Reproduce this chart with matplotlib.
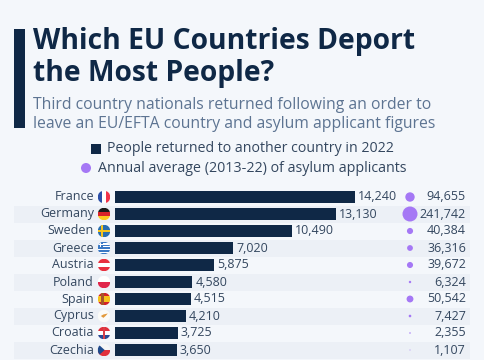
import matplotlib
matplotlib.use("Agg")
import matplotlib.pyplot as plt
from matplotlib.patches import Rectangle, Circle, Polygon

countries = ["France", "Germany", "Sweden", "Greece", "Austria",
             "Poland", "Spain", "Cyprus", "Croatia", "Czechia"]
returned = [14240, 13130, 10490, 7020, 5875, 4580, 4515, 4210, 3725, 3650]
asylum = [94655, 241742, 40384, 36316, 39672, 6324, 50542, 7427, 2355, 1107]

BG = "#f4f7fb"
STRIPE = "#ecf0f6"
NAVY = "#0f2846"
PURPLE = "#a578f5"
TEXT = "#34475f"
SUB = "#5d7492"

W, H = 485, 360
plt.rcParams["font.family"] = ["Open Sans", "DejaVu Sans"]

fig = plt.figure(figsize=(W / 100, H / 100), dpi=100, facecolor=BG)

# overlay in pixel coords for header, stripes and flags
bg = fig.add_axes([0, 0, 1, 1], zorder=0)
bg.set_xlim(0, W)
bg.set_ylim(H, 0)
bg.axis("off")

bg.add_patch(Rectangle((14, 29), 11, 99, color=NAVY, lw=0))
bg.text(33, 49, "Which EU Countries Deport", fontsize=20.3, fontweight="bold", color=NAVY)
bg.text(33, 81, "the Most People?", fontsize=20.3, fontweight="bold", color=NAVY)
bg.text(33, 109, "Third country nationals returned following an order to", fontsize=11.35, color=SUB)
bg.text(33, 128, "leave an EU/EFTA country and asylum applicant figures", fontsize=11.35, color=SUB)

bg.add_patch(Rectangle((91, 144), 10, 10, color=NAVY, lw=0))
bg.text(107, 149, "People returned to another country in 2022", fontsize=10.2, color=TEXT, va="center")
bg.add_patch(Circle((86, 168), 5, color=PURPLE, lw=0))
bg.text(98, 168, "Annual average (2013-22) of asylum applicants", fontsize=10.25, color=TEXT, va="center")

row_h = 17
top = 188.5


def row_y(i):
    return top + row_h * (i + 0.5)


# zebra stripes
for i in range(1, len(countries), 2):
    bg.add_patch(Rectangle((14, top + row_h * i), 456, row_h, color=STRIPE, lw=0))


def flag(i, shapes, base="#ffffff"):
    cx, cy, r = 104, row_y(i), 6.3
    clip = Circle((cx, cy), r, transform=bg.transData)
    back = Rectangle((cx - r, cy - r), 2 * r, 2 * r, color=base, lw=0)
    bg.add_patch(back)
    back.set_clip_path(clip)
    for kind, col, a in shapes:
        if kind == "v":  # vertical band, x0/x1 as fractions
            p = Rectangle((cx - r + a[0] * 2 * r, cy - r), (a[1] - a[0]) * 2 * r, 2 * r, color=col, lw=0)
        elif kind == "h":
            p = Rectangle((cx - r, cy - r + a[0] * 2 * r), 2 * r, (a[1] - a[0]) * 2 * r, color=col, lw=0)
        else:
            p = Polygon([(cx - r + x * 2 * r, cy - r + y * 2 * r) for x, y in a], color=col, lw=0)
        bg.add_patch(p)
        p.set_clip_path(clip)


flag(0, [("v", "#2b4fa8", (0, .33)), ("v", "#f0344a", (.67, 1))])
flag(1, [("h", "#1a1a1a", (0, .33)), ("h", "#d8232a", (.33, .67)), ("h", "#fbc820", (.67, 1))])
flag(2, [("h", "#2a6fb0", (0, 1)), ("h", "#f7c51e", (.42, .58)), ("v", "#f7c51e", (.3, .46))])
flag(3, [("h", "#3a78c4", (i / 9, (i + 1) / 9)) for i in range(0, 9, 2)]
     + [("p", "#3a78c4", [(0, 0), (.42, 0), (.42, .45), (0, .45)]),
        ("h", "#ffffff", (.18, .27)), ("p", "#ffffff", [(.17, 0), (.25, 0), (.25, .45), (.17, .45)])])
flag(4, [("h", "#e8303f", (0, .33)), ("h", "#e8303f", (.67, 1))])
flag(5, [("h", "#e0254a", (.5, 1))])
flag(6, [("h", "#d2232a", (0, .25)), ("h", "#f6c21c", (.25, .75)), ("h", "#d2232a", (.75, 1)),
         ("v", "#a5562a", (.28, .5))])
flag(7, [("p", "#e39a3b", [(.25, .5), (.45, .38), (.8, .3), (.62, .5), (.45, .65)])], base="#fbfbf8")
flag(8, [("h", "#e0303c", (0, .33)), ("h", "#2b4a94", (.67, 1)),
         ("v", "#d8404a", (.4, .6))])
flag(9, [("h", "#e0303c", (.5, 1)), ("p", "#1f4a8c", [(0, 0), (.55, .5), (0, 1)])], base="#f6f6f6")

# bars
ax = fig.add_axes([115 / W, 1 - (top + row_h * 10) / H, 240 / W, row_h * 10 / H], zorder=1)
ax.patch.set_alpha(0)
ax.axis("off")
ypos = list(range(len(countries)))
ax.barh(ypos, returned, height=0.74, color=NAVY)
ax.set_xlim(0, 14240)
ax.set_ylim(len(countries) - 0.5, -0.5)
for y, name, val in zip(ypos, countries, returned):
    ax.annotate(name, (0, y), xytext=(-21, 0), textcoords="offset pixels", ha="right", va="center",
                fontsize=9.0, color=TEXT)
    ax.annotate(f"{val:,}", (val, y), xytext=(3, 0), textcoords="offset pixels", ha="left", va="center",
                fontsize=9.0, color=TEXT)

# bubbles, area scaled to the biggest
ax2 = fig.add_axes([400 / W, 1 - (top + row_h * 10) / H, 66 / W, row_h * 10 / H], zorder=1)
ax2.patch.set_alpha(0)
ax2.axis("off")
ax2.set_xlim(0, 66)
ax2.set_ylim(len(countries) - 0.5, -0.5)
max_d = 15 * 0.72
sizes = [max_d ** 2 * v / max(asylum) for v in asylum]
ax2.scatter([10] * len(asylum), ypos, s=sizes, color=PURPLE, linewidths=0)
for y, val in zip(ypos, asylum):
    ax2.text(66, y, f"{val:,}", ha="right", va="center", fontsize=9.0, color=TEXT)

fig.savefig("out.png", dpi=100, facecolor=BG)
